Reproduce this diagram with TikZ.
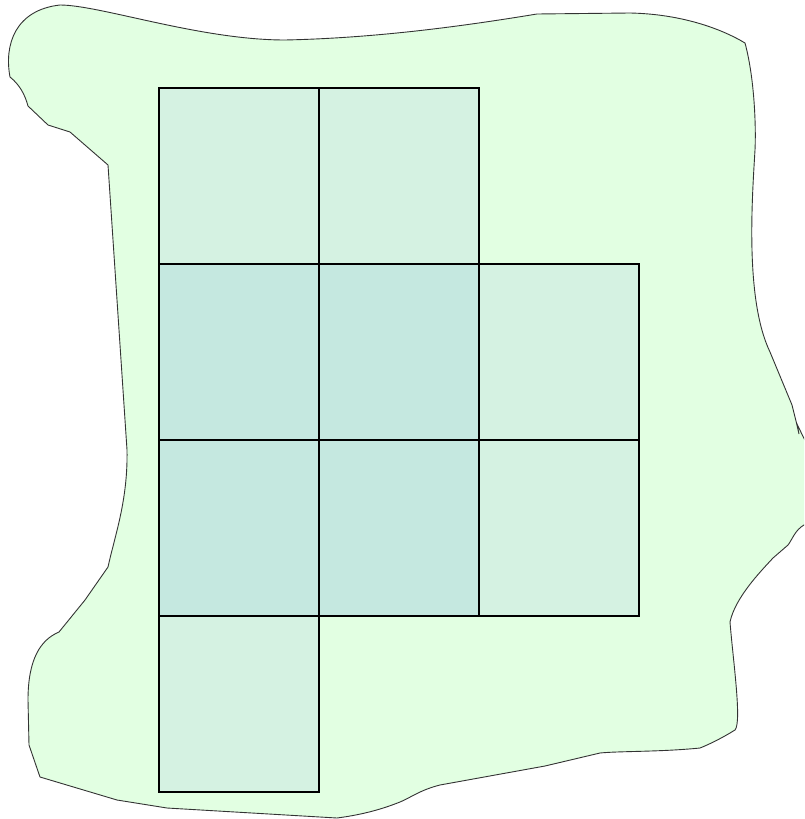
\documentclass[tikz,border=0pt]{standalone}
\usepackage{tikz}
\usetikzlibrary{positioning}
\definecolor{blobfill}{HTML}{E2FFE2}
\definecolor{celllight}{HTML}{D5F2E2}
\definecolor{celldark}{HTML}{C5E8E0}

\begin{document}
\begin{tikzpicture}[x=1pt, y=-1pt,
        blob/.style={fill=blobfill, draw=black!80, line width=0.9pt, line join=miter},
        cell/.style={draw=black, line width=2pt}]
        \useasboundingbox (0,0) rectangle (804,819);
        \clip (0,0) rectangle (804,819);

        % Region
        \draw[blob] (10,77) .. controls (4,45) and (15,10) .. (60,5)
            .. controls (100,5) and (200,40) .. (285,40)
            .. controls (380,38) and (470,25) .. (537,14) -- (630,13)
            .. controls (680,14) and (720,28) .. (745,43)
            .. controls (755,80) and (756,130) .. (755,150)
            .. controls (752,200) and (745,300) .. (770,352)
            -- (792,405) -- (796,421) -- (799,434) -- (797,424) -- (812,455) -- (812,520)
            -- (804,525) .. controls (795,530) and (792,540) .. (788,545) -- (773,558)
            .. controls (760,572) and (735,598) .. (730,622)
            .. controls (733,660) and (742,722) .. (735,730)
            .. controls (722,738) and (710,744) .. (700,748)
            .. controls (660,752) and (620,751) .. (600,753)
            -- (545,766) -- (440,785)
            .. controls (420,790) and (410,798) .. (400,802)
            .. controls (380,810) and (360,815) .. (337,818)
            -- (167,808) -- (117,800) -- (40,777) -- (29,745) -- (28,700)
            .. controls (28,660) and (40,640) .. (59,632)
            -- (85,600) -- (108,567)
            .. controls (115,535) and (128,500) .. (127,450)
            -- (108,165) -- (70,132) -- (48,125) -- (28,106)
            .. controls (25,95) and (20,85) .. (10,77) -- cycle;

        % Cells
        \foreach \c/\r/\f in {0/0/celllight, 1/0/celllight,
                              0/1/celldark, 1/1/celldark, 2/1/celllight,
                              0/2/celldark, 1/2/celldark, 2/2/celllight,
                              0/3/celllight}
            \draw[cell, fill=\f] (159+160*\c, 88+176*\r) rectangle ++(160,176);

\end{tikzpicture}
\end{document}
